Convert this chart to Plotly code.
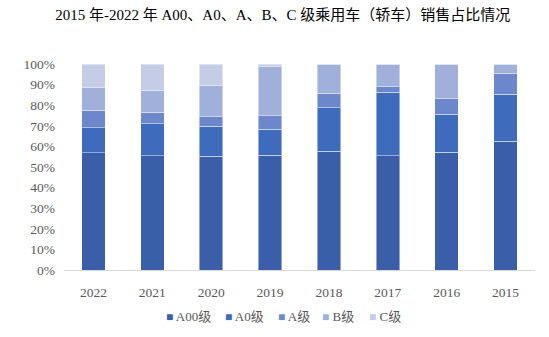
import plotly.graph_objects as go

years = ["2022", "2021", "2020", "2019", "2018", "2017", "2016", "2015"]
a00 = [57.0, 55.4, 55.3, 55.7, 57.7, 55.4, 57.2, 62.5]
a0 = [12.1, 15.7, 14.5, 12.6, 21.1, 30.9, 18.4, 22.8]
a = [8.4, 5.6, 4.7, 6.7, 7.0, 2.7, 7.6, 10.2]
b = [11.0, 10.4, 15.2, 23.7, 14.2, 10.8, 16.6, 4.5]
c = [11.5, 12.9, 10.3, 1.3, 0.0, 0.2, 0.2, 0.0]

names = ["A00级", "A0级", "A级", "B级", "C级"]
colors = ["#3A5FA8", "#3E6BBC", "#6C88CA", "#A1B0DA", "#C4CCE6"]
values = [a00, a0, a, b, c]

FONT = "'Liberation Serif', 'Times New Roman', 'Noto Sans CJK SC', serif"

fig = go.Figure()
for name, vals, col in zip(names, values, colors):
    fig.add_trace(go.Bar(x=years, y=[v / 100 for v in vals], name=name, showlegend=False,
                         marker=dict(color=col, line=dict(color="rgba(255,255,255,0.45)", width=1))))

# legend drawn as compact annotations (square + label)
L, W = 64, 471
leg_px = [164, 223, 276, 320, 367]
for name, col, px in zip(names, colors, leg_px):
    fig.add_annotation(
        xref="paper", yref="paper", x=(px - L) / W, y=-0.228, xanchor="left", yanchor="middle",
        showarrow=False,
        text=f"<span style='color:{col};font-size:12px'>■</span> {name}",
        font=dict(family=FONT, size=13, color="#595959"))

fig.update_layout(
    barmode="stack", bargap=0.6,
    width=549, height=337,
    margin=dict(l=64, r=14, t=64, b=67),
    paper_bgcolor="white", plot_bgcolor="white",
    font=dict(family=FONT, size=13, color="#595959"),
    title=dict(text="2015 年-2022 年 A00、A0、A、B、C 级乘用车（轿车）销售占比情况",
               x=0.515, xanchor="center", y=0.955, yanchor="middle",
               font=dict(family=FONT, size=15, color="#000000")),
    xaxis=dict(type="category", showline=True, linecolor="#D9D9D9", linewidth=1,
               ticks="", ticklabelstandoff=10,
               tickfont=dict(family=FONT, size=13.5, color="#595959")),
    yaxis=dict(range=[0, 1], tickvals=[i / 10 for i in range(11)], tickformat=".0%",
               showgrid=False, zeroline=False, showline=False, ticklabelstandoff=8,
               tickfont=dict(family=FONT, size=13.5, color="#595959")),
)

fig.write_html("out.html")
